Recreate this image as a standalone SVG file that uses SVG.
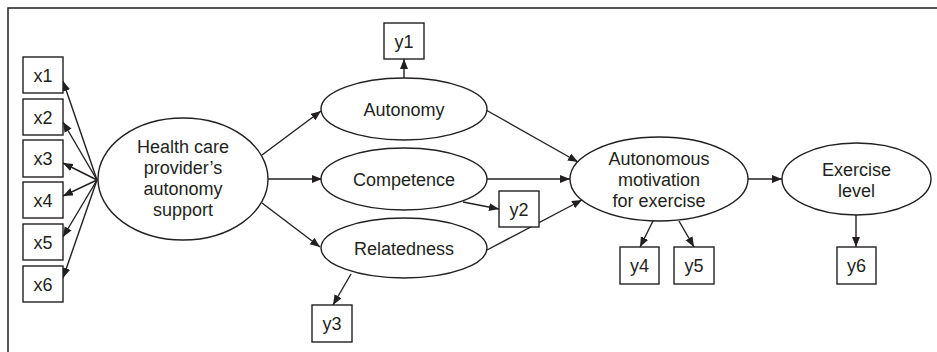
<svg xmlns="http://www.w3.org/2000/svg" width="937" height="352" viewBox="0 0 937 352">
<defs>
<marker id="ah" markerUnits="userSpaceOnUse" markerWidth="11" markerHeight="9" refX="10" refY="4" orient="auto">
<path d="M0,0 L10,4 L0,8 z" fill="#231f20"/>
</marker>
<style>
.sh{fill:#fff;stroke:#231f20;stroke-width:1.4}
.t{font-family:"Liberation Sans",Arial,sans-serif;font-size:18px;fill:#231f20;text-anchor:middle}
.c line{stroke:#231f20;stroke-width:1.4;marker-end:url(#ah)}
</style>
</defs>
<rect width="937" height="352" fill="#fff"/>
<path d="M8,352 L8,8 L937,8" fill="none" stroke="#231f20" stroke-width="1.5"/>
<g class="c" id="connectors">
<line x1="97" y1="180" x2="63" y2="81"/>
<line x1="97" y1="180" x2="63" y2="122"/>
<line x1="97" y1="180" x2="63" y2="163"/>
<line x1="97" y1="180" x2="63" y2="196"/>
<line x1="97" y1="180" x2="63" y2="237"/>
<line x1="97" y1="180" x2="63" y2="278"/>
<line x1="262" y1="155" x2="321" y2="111"/>
<line x1="268" y1="179" x2="322" y2="179"/>
<line x1="262" y1="203" x2="320" y2="247"/>
<line x1="404" y1="78" x2="404" y2="59"/>
<line x1="463" y1="202" x2="499" y2="209"/>
<line x1="351" y1="274" x2="333" y2="305"/>
<line x1="486" y1="110" x2="578" y2="162"/>
<line x1="487" y1="179" x2="570" y2="179"/>
<line x1="487" y1="250" x2="582" y2="200"/>
<line x1="748" y1="179" x2="782" y2="179"/>
<line x1="653" y1="221" x2="640" y2="247"/>
<line x1="679" y1="221" x2="694" y2="247"/>
<line x1="856" y1="215" x2="856" y2="247"/>
</g>
<g id="x1"><rect class="sh" x="23" y="57" width="40" height="36"/><text class="t" x="43" y="81.5">x1</text></g>
<g id="x2"><rect class="sh" x="23" y="99" width="40" height="36"/><text class="t" x="43" y="123.5">x2</text></g>
<g id="x3"><rect class="sh" x="23" y="140" width="40" height="37"/><text class="t" x="43" y="165">x3</text></g>
<g id="x4"><rect class="sh" x="23" y="182" width="40" height="36"/><text class="t" x="43" y="206.5">x4</text></g>
<g id="x5"><rect class="sh" x="23" y="224" width="40" height="36"/><text class="t" x="43" y="248.5">x5</text></g>
<g id="x6"><rect class="sh" x="23" y="266" width="40" height="36"/><text class="t" x="43" y="290.5">x6</text></g>
<g id="health"><ellipse class="sh" cx="183" cy="179" rx="85" ry="61"/>
<text class="t" x="183" y="153">Health care</text>
<text class="t" x="183" y="174">provider’s</text>
<text class="t" x="183" y="195">autonomy</text>
<text class="t" x="183" y="216">support</text></g>
<g id="autonomy"><ellipse class="sh" cx="404" cy="109" rx="83" ry="31"/><text class="t" x="404" y="115.5">Autonomy</text></g>
<g id="competence"><ellipse class="sh" cx="404" cy="179" rx="83" ry="31"/><text class="t" x="404" y="185.5">Competence</text></g>
<g id="relatedness"><ellipse class="sh" cx="404" cy="248" rx="83" ry="30"/><text class="t" x="404" y="254.5">Relatedness</text></g>
<g id="y1"><rect class="sh" x="384" y="23" width="40" height="36"/><text class="t" x="404" y="47.5">y1</text></g>
<g id="y2"><rect class="sh" x="499" y="191" width="40" height="36"/><text class="t" x="519" y="215.5">y2</text></g>
<g id="y3"><rect class="sh" x="312" y="305" width="40" height="37"/><text class="t" x="332" y="329.5">y3</text></g>
<g id="motivation"><ellipse class="sh" cx="659" cy="179" rx="89" ry="42"/>
<text class="t" x="659" y="165">Autonomous</text>
<text class="t" x="659" y="186">motivation</text>
<text class="t" x="659" y="207">for exercise</text></g>
<g id="exercise"><ellipse class="sh" cx="856.5" cy="179" rx="74.5" ry="36"/>
<text class="t" x="856.5" y="176">Exercise</text>
<text class="t" x="856.5" y="197">level</text></g>
<g id="y4"><rect class="sh" x="620" y="247" width="39" height="37"/><text class="t" x="639.5" y="271.5">y4</text></g>
<g id="y5"><rect class="sh" x="674" y="247" width="40" height="37"/><text class="t" x="694" y="271.5">y5</text></g>
<g id="y6"><rect class="sh" x="837" y="247" width="39" height="37"/><text class="t" x="856.5" y="271.5">y6</text></g>
</svg>
